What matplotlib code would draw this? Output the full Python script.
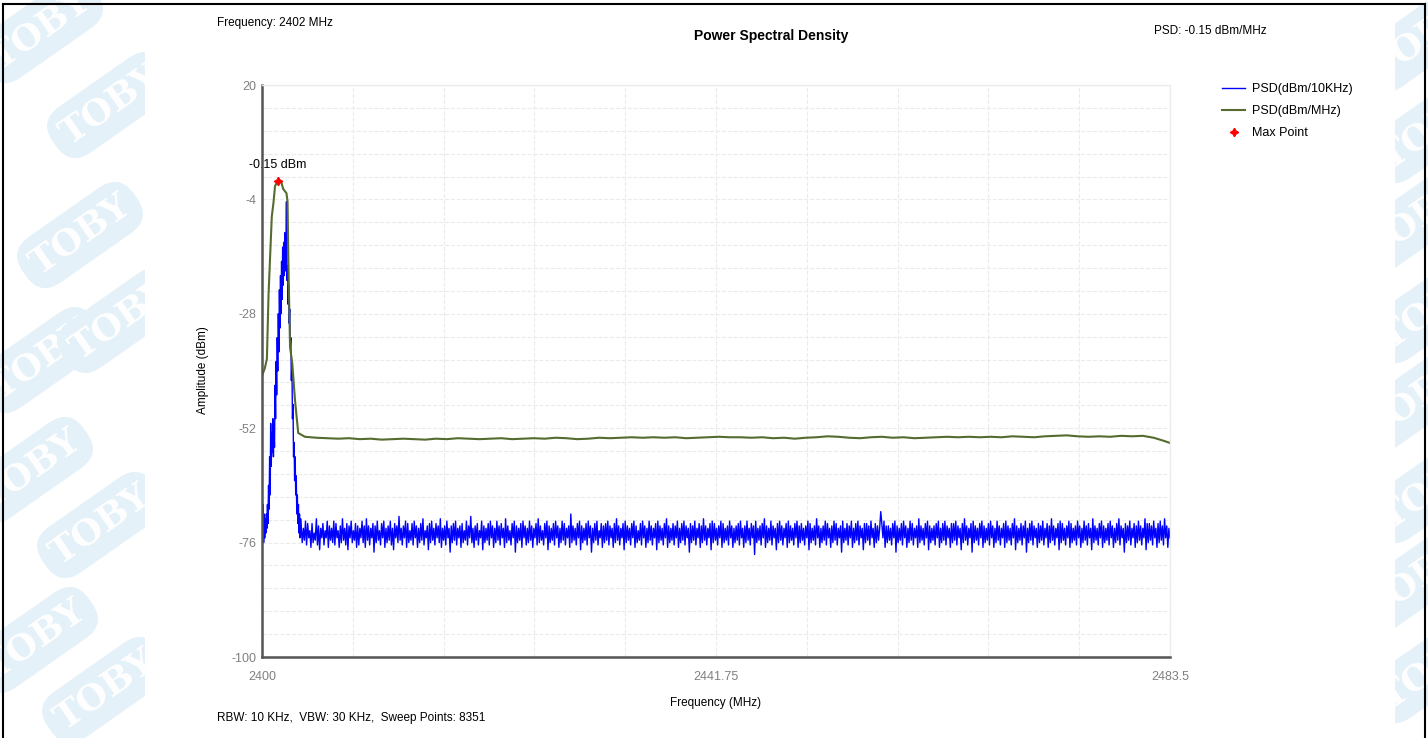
import numpy as np
import matplotlib
matplotlib.use('Agg')
import matplotlib.pyplot as plt
from matplotlib.patches import Rectangle
from matplotlib.lines import Line2D

plt.rcParams['font.family'] = ['Liberation Sans', 'DejaVu Sans']
plt.rcParams['axes.unicode_minus'] = False

# ---- data ----
# PSD(dBm/10KHz): peak region on a 0.05 MHz grid from 2400 MHz
blue_peak_start = 2400.0
blue_peak_step = 0.05
blue_peak_db = [
    -63, -75, -68, -76, -70, -75, -71, -74, -70, -73,
    -68, -72, -64, -69, -58, -66, -51, -60, -53, -57,
    -50, -58, -52, -56, -43, -50, -38, -45, -33, -40,
    -28, -36, -23, -31, -20, -28, -17, -25, -14, -22,
    -13, -20, -11, -19, -14, -4.5, -21, -18, -26, -22,
    -30, -27, -35, -33, -42, -38, -50, -47, -58, -55,
    -63, -58, -66, -62, -70, -66, -72, -68, -74, -70,
    -75, -71,
]
# noise floor on a 0.1 MHz grid from 2403.6 MHz to 2483.5 MHz
blue_floor_start = 2403.6
blue_floor_step = 0.1
blue_floor_db = [
    -72.5, -76.0, -73.0, -75.5, -71.5, -76.5, -72.0, -75.0, -73.5, -77.0, -72.0, -76.0, -74.0, -75.5, -71.0, -76.5, -72.5, -77.5, -73.0, -75.0,
    -72.0, -76.5, -73.5, -75.0, -71.5, -77.0, -72.5, -75.5, -73.0, -76.0, -71.5, -76.5, -72.0, -75.0, -73.5, -77.0, -72.5, -76.0, -71.0, -75.5,
    -73.0, -76.5, -72.0, -77.5, -72.5, -75.0, -71.5, -76.0, -73.5, -75.5, -72.0, -77.0, -72.5, -76.5, -73.0, -75.0, -71.5, -76.0, -72.5, -77.0,
    -71.0, -75.5, -72.5, -76.5, -73.0, -75.0, -72.0, -78.0, -72.5, -76.0, -71.5, -75.5, -73.5, -76.5, -72.0, -75.0, -71.5, -77.0, -73.0, -76.0,
    -72.5, -75.5, -71.5, -76.5, -73.0, -77.5, -72.0, -75.0, -72.5, -76.0, -70.5, -75.5, -73.0, -76.5, -72.5, -75.0, -71.5, -77.0, -72.0, -76.0,
    -73.5, -75.5, -72.0, -76.5, -71.5, -75.0, -72.5, -77.0, -73.0, -76.0, -72.0, -75.5, -71.0, -76.5, -73.5, -75.0, -72.5, -77.5, -72.0, -76.0,
    -71.5, -75.5, -73.0, -76.5, -72.0, -75.0, -72.5, -76.0, -71.0, -77.0, -73.0, -75.5, -72.5, -76.5, -71.5, -75.0, -73.0, -78.0, -72.5, -76.0,
    -72.0, -75.5, -71.5, -76.5, -73.0, -75.0, -72.5, -77.0, -72.0, -76.0, -73.5, -75.5, -71.5, -76.5, -72.5, -75.0, -70.5, -76.0, -73.0, -77.0,
    -72.5, -75.5, -72.0, -76.5, -73.5, -75.0, -71.5, -77.5, -72.5, -76.0, -73.0, -75.5, -72.0, -76.5, -71.5, -75.0, -72.5, -77.0, -73.0, -76.0,
    -71.5, -75.5, -72.5, -76.5, -72.0, -75.0, -73.0, -77.0, -71.0, -76.0, -72.5, -75.5, -73.5, -76.5, -72.0, -75.0, -71.5, -78.0, -72.5, -76.0,
    -73.0, -75.5, -72.0, -77.0, -71.5, -75.0, -72.5, -76.5, -73.0, -76.0, -71.5, -75.5, -72.5, -77.0, -73.0, -75.0, -72.0, -76.5, -71.0, -76.0,
    -72.5, -75.5, -73.5, -76.5, -72.0, -75.0, -71.5, -77.5, -72.5, -76.0, -73.0, -75.5, -72.0, -76.5, -71.5, -75.0, -72.5, -77.0, -73.0, -76.0,
    -71.5, -75.5, -72.0, -76.5, -73.0, -75.0, -72.5, -77.0, -70.0, -76.0, -72.5, -75.5, -73.0, -76.5, -72.0, -75.0, -71.5, -77.5, -72.5, -76.0,
    -73.0, -75.5, -72.0, -76.5, -71.5, -75.0, -72.5, -78.0, -73.0, -76.0, -72.0, -75.5, -71.5, -76.5, -73.5, -75.0, -72.0, -77.0, -72.5, -76.0,
    -72.0, -75.5, -71.5, -76.5, -72.5, -75.0, -73.0, -77.0, -72.0, -76.0, -71.0, -75.5, -72.5, -76.5, -73.0, -75.0, -72.0, -77.5, -71.5, -76.0,
    -72.5, -75.5, -73.0, -76.5, -72.0, -75.0, -71.5, -77.0, -72.5, -76.0, -73.5, -75.5, -72.0, -76.5, -71.5, -75.0, -72.5, -77.0, -73.0, -76.0,
    -71.5, -75.5, -72.5, -76.5, -73.0, -75.0, -72.0, -77.5, -71.5, -76.0, -72.5, -75.5, -73.0, -76.5, -72.0, -75.0, -71.0, -77.0, -72.5, -76.0,
    -73.0, -75.5, -72.0, -76.5, -72.5, -75.0, -71.5, -77.0, -73.0, -76.0, -72.0, -75.5, -71.5, -76.5, -72.5, -75.0, -73.0, -78.0, -72.0, -76.0,
    -72.5, -75.5, -71.5, -76.5, -73.0, -75.0, -72.0, -77.0, -72.5, -76.0, -71.0, -75.5, -72.5, -76.5, -73.0, -75.0, -72.0, -77.5, -71.5, -76.0,
    -72.0, -75.5, -73.0, -76.5, -72.5, -75.0, -71.5, -77.0, -72.0, -76.0, -73.0, -75.5, -72.5, -76.5, -71.5, -75.0, -72.5, -77.0, -73.0, -76.0,
    -72.5, -75.5, -72.0, -76.5, -71.5, -75.0, -73.0, -77.0, -72.5, -76.0, -71.5, -75.5, -73.0, -76.5, -72.0, -75.0, -72.5, -78.5, -71.5, -76.0,
    -73.0, -75.5, -72.5, -76.5, -72.0, -75.0, -71.0, -77.0, -72.5, -76.0, -73.0, -75.5, -71.5, -76.5, -72.5, -75.0, -73.0, -77.5, -72.0, -76.0,
    -71.5, -75.5, -72.5, -76.5, -73.0, -75.0, -72.0, -77.0, -71.5, -76.0, -72.5, -75.5, -73.0, -76.5, -72.0, -75.0, -71.5, -77.0, -72.5, -76.0,
    -72.0, -75.5, -73.0, -76.5, -72.5, -75.0, -71.5, -77.5, -72.0, -76.0, -73.0, -75.5, -72.5, -76.5, -71.0, -75.0, -72.5, -77.0, -73.0, -76.0,
    -72.5, -75.5, -71.5, -76.5, -72.0, -75.0, -73.0, -77.0, -72.5, -76.0, -71.5, -75.5, -72.0, -76.5, -73.0, -75.0, -72.5, -78.0, -71.5, -76.0,
    -73.0, -75.5, -72.0, -76.5, -72.5, -75.0, -71.5, -77.0, -73.0, -76.0, -72.0, -75.5, -71.5, -76.5, -72.5, -75.0, -73.0, -77.5, -72.0, -76.0,
    -72.0, -75.5, -72.5, -76.5, -71.5, -75.0, -73.0, -77.0, -72.0, -76.0, -72.5, -75.5, -73.0, -69.5, -72.0, -75.0, -71.5, -77.0, -72.5, -76.0,
    -72.5, -75.5, -73.0, -76.5, -72.0, -75.0, -71.5, -78.0, -72.5, -76.0, -73.0, -75.5, -72.0, -76.5, -71.5, -75.0, -72.5, -77.0, -73.0, -76.0,
    -71.5, -75.5, -72.0, -76.5, -73.0, -75.0, -72.5, -77.0, -71.0, -76.0, -72.5, -75.5, -73.0, -76.5, -72.0, -75.0, -71.5, -77.5, -72.5, -76.0,
    -73.0, -75.5, -72.5, -76.5, -72.0, -75.0, -71.5, -77.0, -73.0, -76.0, -72.0, -75.5, -71.5, -76.5, -72.5, -75.0, -73.0, -77.0, -72.0, -76.0,
    -72.0, -75.5, -71.5, -76.5, -72.5, -75.0, -73.0, -77.5, -72.0, -76.0, -71.0, -75.5, -72.5, -76.5, -73.0, -75.0, -72.0, -78.0, -71.5, -76.0,
    -72.5, -75.5, -73.0, -76.5, -72.0, -75.0, -71.5, -77.0, -72.5, -76.0, -73.0, -75.5, -72.0, -76.5, -71.5, -75.0, -72.5, -77.0, -73.0, -76.0,
    -71.5, -75.5, -72.5, -76.5, -73.0, -75.0, -72.0, -77.0, -71.5, -76.0, -72.5, -75.5, -73.0, -76.5, -72.0, -75.0, -71.0, -77.5, -72.5, -76.0,
    -73.0, -75.5, -72.0, -76.5, -72.5, -75.0, -71.5, -78.0, -73.0, -76.0, -72.0, -75.5, -71.5, -76.5, -72.5, -75.0, -73.0, -77.0, -72.0, -76.0,
    -72.5, -75.5, -71.5, -76.5, -73.0, -75.0, -72.0, -77.0, -72.5, -76.0, -71.0, -75.5, -72.5, -76.5, -73.0, -75.0, -72.0, -77.5, -71.5, -76.0,
    -72.0, -75.5, -73.0, -76.5, -72.5, -75.0, -71.5, -77.0, -72.0, -76.0, -73.0, -75.5, -72.5, -76.5, -71.5, -75.0, -72.5, -77.0, -73.0, -76.0,
    -71.5, -75.5, -72.5, -76.5, -72.0, -75.0, -73.0, -77.5, -71.0, -76.0, -72.5, -75.5, -73.0, -76.5, -72.0, -75.0, -71.5, -77.0, -72.5, -76.0,
    -73.0, -75.5, -72.0, -76.5, -71.5, -75.0, -72.5, -77.0, -73.0, -76.0, -72.0, -75.5, -71.0, -76.5, -72.5, -75.0, -73.0, -78.0, -72.0, -76.0,
    -72.5, -75.5, -71.5, -76.5, -73.0, -75.0, -72.0, -77.0, -72.5, -76.0, -71.5, -75.5, -72.5, -76.5, -73.0, -75.0, -71.0, -77.5, -72.0, -76.0,
    -72.0, -75.5, -72.5, -76.5, -71.5, -75.0, -73.0, -77.0, -72.0, -76.0, -71.5, -75.5, -72.5, -76.5, -71.0, -75.0, -72.5, -77.0, -73.0, -75.0,
]

# PSD(dBm/MHz)
green_peak_freq = [2400.0, 2400.25, 2400.45, 2400.6, 2400.9, 2401.05, 2401.2, 2401.44, 2401.75, 2401.95,
                   2402.25, 2402.35, 2402.42, 2402.58, 2402.78, 2403.03, 2403.33, 2403.95]
green_peak_db = [-41, -39.5, -37.5, -24, -7.6, -4.8, -1.2, -0.15, -0.2, -1.8,
                 -2.7, -4.5, -16.7, -35, -38.3, -46, -53, -53.8]
green_flat_freq = list(range(2405, 2484)) + [2483.5]
green_flat_db = [
    -54.0, -54.1, -54.2, -54.1, -54.3, -54.2, -54.4, -54.3, -54.2, -54.3,
    -54.4, -54.2, -54.3, -54.1, -54.2, -54.3, -54.2, -54.1, -54.3, -54.2,
    -54.1, -54.2, -54.0, -54.1, -54.3, -54.2, -54.0, -54.1, -54.0, -53.9,
    -54.0, -53.9, -54.0, -53.9, -54.1, -54.0, -53.9, -53.8, -53.9, -53.9,
    -54.0, -53.9, -54.1, -54.0, -54.2, -54.0, -53.9, -53.7, -53.8, -54.0,
    -54.1, -53.9, -53.8, -54.0, -53.9, -54.1, -54.0, -53.9, -53.8, -53.9,
    -53.8, -53.9, -53.8, -53.9, -53.7, -53.8, -53.9, -53.7, -53.6, -53.5,
    -53.7, -53.8, -53.7, -53.8, -53.6, -53.7, -53.6, -54.0, -54.7, -55.1,
]

x_ticks = [2400, 2441.75, 2483.5]
x_tick_labels = ['2400', '2441.75', '2483.5']
y_ticks = [20, -4, -28, -52, -76, -100]

# ---- assemble traces ----
blue_freq = np.concatenate([blue_peak_start + blue_peak_step * np.arange(len(blue_peak_db)),
                            blue_floor_start + blue_floor_step * np.arange(len(blue_floor_db))])
blue_db = np.concatenate([blue_peak_db, blue_floor_db])
green_freq = np.array(green_peak_freq + green_flat_freq, dtype=float)
green_db = np.array(green_peak_db + green_flat_db, dtype=float)
imax = int(np.argmax(green_db))
max_f, max_v = green_freq[imax], green_db[imax]

W, H = 1428, 738
fig = plt.figure(figsize=(W / 100, H / 100), dpi=100)

# faint watermark in the side margins
wm_color = '#e4f1f9'
wm_centers = [(40, 30), (110, 105), (80, 235), (40, 360), (120, 320),
              (30, 470), (100, 525), (35, 640), (105, 690),
              (1420, 40), (1430, 130), (1415, 220), (1430, 310), (1415, 400),
              (1430, 490), (1415, 580), (1430, 670)]
for cx, cy in wm_centers:
    fig.text(cx / W, 1 - cy / H, 'TOBY', rotation=35, ha='center', va='center',
             fontsize=26, fontweight='bold', family='DejaVu Serif', color='white',
             bbox=dict(boxstyle='round,pad=0.3,rounding_size=0.7', fc=wm_color, ec='none'),
             zorder=-3)
fig.add_artist(Rectangle((145 / W, 0), (1395 - 145) / W, 1, transform=fig.transFigure,
                         fc='white', ec='none', zorder=-2))

# window frame lines
fig.add_artist(Line2D([3 / W, 1425 / W], [1 - 4 / H, 1 - 4 / H], transform=fig.transFigure,
                      color='black', lw=1.5))
fig.add_artist(Line2D([3 / W, 3 / W], [0, 1 - 4 / H], transform=fig.transFigure, color='black', lw=1.5))
fig.add_artist(Line2D([1425 / W, 1425 / W], [0, 1 - 4 / H], transform=fig.transFigure,
                      color='black', lw=1.5))

ax = fig.add_axes([262 / W, 1 - 657 / H, 908 / W, 572 / H])
ax.plot(blue_freq, blue_db, color='#0000ff', lw=1.0, label='PSD(dBm/10KHz)')
ax.plot(green_freq, green_db, color='#556b2f', lw=1.5, label='PSD(dBm/MHz)')
ax.plot([max_f], [max_v], linestyle='none', marker=(4, 1, 0), ms=6, color='red', label='Max Point')
ax.annotate('%.2f dBm' % max_v, (max_f, max_v), xytext=(0, 16), textcoords='offset pixels',
            ha='center', va='center', fontsize=9, color='black', zorder=2, annotation_clip=False)

ax.set_xlim(2400, 2483.5)
ax.set_ylim(-100, 20)
ax.set_xticks(x_ticks)
ax.set_xticklabels(x_tick_labels)
ax.set_yticks(y_ticks)
ax.set_xticks(np.linspace(2400, 2483.5, 11), minor=True)
ax.set_yticks(np.arange(-100, 20.1, 4.8), minor=True)
ax.tick_params(which='both', length=0)
ax.tick_params(axis='x', pad=10, labelsize=9, labelcolor='#808080')
ax.tick_params(axis='y', pad=4, labelsize=9, labelcolor='#808080')
ax.grid(True, which='both', color='#ebebeb', linestyle='--', linewidth=0.8)
ax.set_axisbelow(True)
for side in ('top', 'right'):
    ax.spines[side].set_color('#ececec')
    ax.spines[side].set_linewidth(1)
for side in ('left', 'bottom'):
    ax.spines[side].set_color('#555555')
    ax.spines[side].set_linewidth(1.8)

fig.text(716 / W, 1 - 703 / H, 'Frequency (MHz)', ha='center', va='center', fontsize=8.5)
fig.text(203 / W, 1 - 370 / H, 'Amplitude (dBm)', ha='center', va='center', rotation=90, fontsize=8.5)
fig.text(771 / W, 1 - 36 / H, 'Power Spectral Density', ha='center', va='center',
         fontsize=10, fontweight='bold')
fig.text(217 / W, 1 - 23 / H, 'Frequency: 2402 MHz', ha='left', va='center', fontsize=8.5)
fig.text(1154 / W, 1 - 31 / H, 'PSD: %.2f dBm/MHz' % max_v, ha='left', va='center', fontsize=8.5)
fig.text(217 / W, 1 - 718 / H, 'RBW: 10 KHz,  VBW: 30 KHz,  Sweep Points: 8351',
         ha='left', va='center', fontsize=8.5)

handles, labels = ax.get_legend_handles_labels()
fig.legend(handles, labels, loc='upper left', bbox_to_anchor=(1222 / W, 1 - 83 / H),
           frameon=False, fontsize=9, borderpad=0, borderaxespad=0, handlelength=1.85,
           handletextpad=0.55, labelspacing=0.8)

fig.savefig('out.png', dpi=100)
